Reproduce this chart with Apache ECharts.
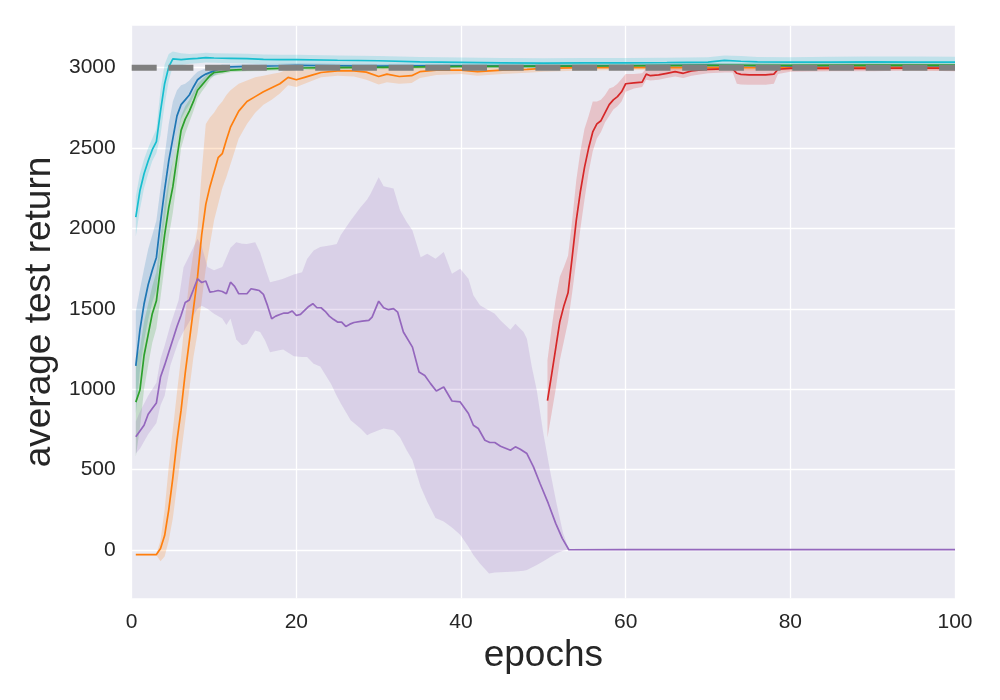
<!DOCTYPE html>
<html lang="en">
<head>
    <meta charset="UTF-8">
    <title>average test return</title>
    <script src="https://cdn.jsdelivr.net/npm/echarts@6/dist/echarts.min.js"></script>
    <style>body{margin:0;background:#fff;}</style>
</head>
<body>
<div id="main" style="width:1000px;height:700px;"></div>
<script>

    // y tick labels / x ticks
    var yTicks = [0, 500, 1000, 1500, 2000, 2500, 3000];
    var refLevel = 3000;

    // cyan
    var cyanX  = [0.5, 1, 1.5, 2, 2.5, 3, 3.5, 4, 4.5, 5, 6, 7, 8, 9, 10, 12, 14, 16, 18, 20, 25, 30, 35, 40, 45, 50, 55, 60, 65, 70, 72, 74, 76, 80, 85, 90, 95, 100];
    var cyanY  = [2070, 2235, 2340, 2420, 2490, 2540, 2730, 2900, 3005, 3055, 3050, 3055, 3058, 3062, 3060, 3058, 3056, 3052, 3050, 3050, 3046, 3043, 3036, 3033, 3030, 3028, 3030, 3030, 3032, 3035, 3045, 3040, 3036, 3035, 3034, 3036, 3035, 3035];
    var cyanLo = [1950, 2120, 2250, 2340, 2420, 2470, 2580, 2770, 2920, 3010, 3015, 3025, 3028, 3032, 3030, 3028, 3026, 3022, 3020, 3020, 3016, 3013, 3006, 3003, 3000, 2998, 3000, 3000, 3002, 3005, 3010, 3008, 3005, 3003, 3000, 2995, 3000, 3000];
    var cyanHi = [2200, 2340, 2430, 2500, 2560, 2620, 2860, 3020, 3085, 3100, 3090, 3085, 3088, 3092, 3090, 3088, 3086, 3082, 3080, 3080, 3076, 3073, 3066, 3063, 3060, 3058, 3060, 3060, 3062, 3065, 3075, 3072, 3066, 3065, 3068, 3070, 3070, 3068];

    // blue
    var blueX  = [0.5, 1, 1.5, 2, 2.5, 3, 3.5, 4, 4.5, 5, 5.5, 6, 6.5, 7, 7.5, 8, 8.5, 9, 10, 11, 12, 14, 16, 18, 20, 25, 30, 35, 40, 50, 60, 70, 80, 90, 100];
    var blueY  = [1145, 1370, 1530, 1650, 1740, 1820, 2040, 2240, 2420, 2560, 2700, 2770, 2800, 2830, 2880, 2925, 2945, 2960, 2980, 3000, 3005, 3008, 3010, 3012, 3015, 3012, 3010, 3012, 3012, 3010, 3012, 3015, 3010, 3012, 3010];
    var blueLo = [850, 1120, 1300, 1430, 1540, 1620, 1850, 2050, 2250, 2420, 2580, 2680, 2730, 2770, 2820, 2870, 2900, 2925, 2950, 2980, 2990, 2995, 2997, 2999, 3002, 2999, 2997, 2999, 2999, 2997, 2999, 3002, 2997, 2999, 2997];
    var blueHi = [1480, 1620, 1750, 1870, 1960, 2050, 2250, 2450, 2650, 2790, 2860, 2890, 2900, 2920, 2950, 2975, 2985, 2995, 3005, 3020, 3020, 3021, 3023, 3025, 3028, 3025, 3023, 3025, 3025, 3023, 3025, 3028, 3023, 3025, 3023];

    // orange
    var orangeX  = [0.5, 1, 1.5, 2, 2.5, 3, 3.5, 4, 4.5, 5, 5.5, 6, 6.5, 7, 7.5, 8, 8.5, 9, 9.5, 10, 10.5, 11, 11.5, 12, 13, 14, 15, 16, 17, 18, 19, 20, 21, 22, 23, 25, 27, 28.5, 30, 31, 32.5, 34, 35, 37, 40, 42, 45, 48, 50, 55, 60, 70, 80, 90, 100];
    var orangeY  = [-28, -28, -28, -28, -28, -28, 10, 90, 250, 450, 680, 870, 1100, 1300, 1500, 1700, 1960, 2150, 2260, 2350, 2440, 2465, 2550, 2630, 2730, 2790, 2820, 2850, 2875, 2900, 2940, 2925, 2940, 2955, 2970, 2980, 2980, 2972, 2945, 2960, 2945, 2950, 2975, 2985, 2985, 2975, 2985, 2990, 2995, 3000, 3002, 3000, 3000, 3002, 3000];
    var orangeLo = [-32, -32, -32, -32, -32, -32, -70, -40, 60, 200, 400, 600, 800, 1000, 1200, 1350, 1550, 1750, 1900, 2050, 2150, 2250, 2320, 2400, 2560, 2650, 2720, 2770, 2800, 2840, 2890, 2880, 2900, 2920, 2940, 2950, 2945, 2925, 2895, 2910, 2900, 2905, 2935, 2955, 2960, 2950, 2960, 2968, 2975, 2982, 2985, 2983, 2983, 2985, 2983];
    var orangeHi = [-24, -24, -24, -24, -24, -24, 60, 250, 520, 750, 980, 1200, 1450, 1680, 1850, 2000, 2350, 2650, 2690, 2720, 2760, 2790, 2830, 2860, 2900, 2920, 2940, 2950, 2960, 2970, 2990, 2980, 2985, 2995, 3005, 3010, 3012, 3010, 2990, 3005, 2990, 2995, 3012, 3015, 3012, 3002, 3010, 3012, 3015, 3018, 3020, 3017, 3017, 3019, 3017];

    // green
    var greenX  = [0.5, 1, 1.5, 2, 2.5, 3, 3.5, 4, 4.5, 5, 5.5, 6, 6.5, 7, 7.5, 8, 8.5, 9, 9.5, 10, 11, 12, 14, 16, 18, 20, 25, 30, 35, 40, 50, 60, 70, 80, 90, 100];
    var greenY  = [920, 995, 1210, 1340, 1470, 1550, 1760, 1960, 2130, 2260, 2440, 2610, 2680, 2730, 2790, 2860, 2890, 2920, 2950, 2970, 2975, 2985, 2990, 2992, 2995, 2998, 3000, 3002, 3005, 3008, 3010, 3012, 3015, 3015, 3016, 3016];
    var greenLo = [580, 760, 1000, 1150, 1290, 1380, 1570, 1770, 1950, 2100, 2300, 2500, 2590, 2660, 2730, 2810, 2850, 2885, 2925, 2950, 2960, 2972, 2978, 2980, 2983, 2986, 2988, 2990, 2993, 2996, 2998, 3000, 3003, 3003, 3004, 3004];
    var greenHi = [1200, 1250, 1420, 1530, 1640, 1730, 1950, 2150, 2310, 2420, 2570, 2700, 2760, 2800, 2850, 2900, 2925, 2950, 2975, 2990, 2990, 2998, 3002, 3004, 3007, 3010, 3012, 3014, 3017, 3020, 3022, 3024, 3027, 3027, 3028, 3028];

    // red
    var redX  = [50.5, 51, 51.5, 52, 52.5, 53, 53.5, 54, 54.5, 55, 55.5, 56, 56.5, 57, 57.5, 58, 58.5, 59, 59.5, 60, 61, 62, 62.5, 63, 64, 65, 66, 67, 68, 70, 72, 73, 73.5, 74, 75, 76, 77, 78, 78.5, 80, 85, 90, 95, 100];
    var redY  = [930, 1090, 1255, 1420, 1520, 1600, 1820, 2050, 2230, 2380, 2500, 2600, 2650, 2670, 2720, 2770, 2800, 2820, 2850, 2900, 2905, 2910, 2960, 2950, 2955, 2965, 2975, 2965, 2980, 2990, 2992, 2992, 2965, 2958, 2955, 2955, 2955, 2960, 2990, 2995, 2995, 2995, 2998, 2995];
    var redLo = [700, 850, 1000, 1180, 1300, 1420, 1600, 1800, 2000, 2180, 2350, 2480, 2560, 2600, 2660, 2700, 2740, 2760, 2790, 2850, 2870, 2880, 2925, 2920, 2925, 2935, 2945, 2935, 2950, 2965, 2970, 2970, 2900, 2895, 2893, 2893, 2893, 2900, 2960, 2975, 2978, 2978, 2982, 2978];
    var redHi = [1180, 1380, 1560, 1700, 1760, 1830, 2050, 2300, 2480, 2620, 2700, 2790, 2790, 2800, 2830, 2870, 2880, 2900, 2930, 2960, 2960, 2965, 2995, 2985, 2988, 2995, 3003, 2995, 3008, 3012, 3014, 3014, 3010, 3008, 3005, 3005, 3005, 3008, 3015, 3015, 3012, 3012, 3014, 3012];

    // purple
    var purpleX = [0.5, 1, 1.5, 2, 2.5, 3, 3.5, 4, 4.5, 5, 5.5, 6, 6.5, 7, 7.5, 8, 8.5, 9, 9.5, 10,
        10.5, 11, 11.5, 12, 12.5, 13, 14, 14.5, 15, 15.5, 16, 16.5, 17, 17.5, 18, 18.5, 19, 19.5, 20, 20.5,
        21, 21.5, 22, 22.5, 23, 23.5, 24, 24.5, 25, 25.5, 26, 26.5, 27, 28, 28.8, 29.2, 30, 30.6, 31.2, 31.8,
        32.3, 33, 34.1, 34.9, 35.6, 36.3, 37, 37.9, 38.9, 39.9, 40.9, 41.5, 42.1, 42.9, 43.5, 44.1, 44.8, 46, 46.6, 47.2,
        48, 48.8, 49.6, 50.6, 51.5, 52.3, 53.1, 60, 70, 80, 90, 100];
    var purpleY = [704, 740, 776, 845, 880, 915, 1076, 1150, 1230, 1310, 1390, 1460, 1540, 1555, 1620, 1687, 1664, 1673, 1604, 1608,
        1614, 1608, 1594, 1666, 1640, 1594, 1594, 1625, 1620, 1614, 1590, 1520, 1439, 1455, 1465, 1474, 1474, 1487, 1459, 1466,
        1490, 1515, 1532, 1507, 1507, 1485, 1455, 1435, 1418, 1418, 1391, 1405, 1415, 1424, 1428, 1449, 1548, 1507, 1495, 1501,
        1480, 1356, 1262, 1107, 1086, 1035, 989, 1014, 927, 921, 849, 776, 756, 683, 669, 669, 646, 621, 642, 627,
        600, 517, 414, 290, 166, 73, 2, 3, 3, 3, 3, 3];
    var purpleBandX = [0.5, 1, 2, 3, 3.5, 4, 4.7, 5.7, 6.3, 7, 8, 8.5, 9.2, 10, 11, 11.5, 12, 12.7, 13.4, 14,
        15, 15.6, 16.2, 16.8, 17.9, 18.4, 19.7, 20.7, 21.3, 22.1, 22.9, 24.2, 24.9, 25.4, 26.6, 27.8, 28.6, 29, 30, 30.6,
        31.8, 32.6, 33.4, 34.1, 35.1, 35.9, 36.9, 37.9, 38.9, 39.9, 40.9, 41.5, 42.3, 43.4, 44.1, 44.8, 46, 46.6, 47.6, 48,
        48.6, 49.2, 50, 50.8, 51.6, 52.4, 53.1];
    var purpleHi = [800, 860, 960, 1040, 1190, 1270, 1400, 1553, 1759, 1830, 1936, 1890, 1760, 1740, 1760, 1820, 1880, 1915, 1905, 1904,
        1915, 1850, 1755, 1666, 1680, 1687, 1714, 1728, 1810, 1863, 1884, 1895, 1904, 1960, 2049, 2132, 2180, 2215, 2318, 2262,
        2248, 2111, 2040, 1987, 1821, 1842, 1811, 1853, 1718, 1749, 1687, 1584, 1522, 1490, 1470, 1428, 1370, 1408, 1356, 1314,
        1139, 994, 725, 497, 290, 104, 4];
    var purpleLo = [600, 630, 720, 790, 900, 960, 1150, 1300, 1360, 1420, 1500, 1520, 1500, 1470, 1440, 1400, 1440, 1310, 1273, 1283,
        1366, 1356, 1304, 1230, 1242, 1248, 1205, 1200, 1200, 1159, 1142, 1035, 960, 911, 807, 756, 714, 725, 745, 756,
        745, 700, 621, 560, 393, 300, 200, 178, 140, 95, 20, -30, -83, -145, -140, -138, -135, -133, -128, -124,
        -108, -93, -70, -45, -20, -5, 4];

    var FONT = '"Liberation Sans", Arial, sans-serif';
    var TXT = '#262626';

    function pairs(xs, ys) {
        return xs.map(function (x, i) { return [x, ys[i]]; });
    }

    function lineSeries(color, xs, ys, z) {
        return {
            type: 'line', data: pairs(xs, ys), showSymbol: false, z: z,
            lineStyle: {color: color, width: 1.7}, silent: true
        };
    }

    // confidence band drawn as one polygon through the axes' coord()
    function bandSeries(color, xs, lo, hi) {
        return {
            type: 'custom', silent: true, z: 1,
            data: xs.map(function (x, i) { return [x, lo[i], hi[i]]; }),
            encode: {x: 0, y: [1, 2]},
            renderItem: function (params, api) {
                if (params.dataIndex !== 0) return;
                var pts = [];
                for (var i = 0; i < xs.length; i++) pts.push(api.coord([xs[i], hi[i]]));
                for (var j = xs.length - 1; j >= 0; j--) pts.push(api.coord([xs[j], lo[j]]));
                return {type: 'polygon', shape: {points: pts}, style: {fill: color, opacity: 0.2}};
            }
        };
    }

    var myChart = echarts.init(document.getElementById('main'));

    var option = {
        animation: false,
        grid: {
            left: 131.7, right: 45, top: 25.7, bottom: 101.7,
            show: true, backgroundColor: '#eaeaf2', borderWidth: 0
        },
        xAxis: {
            type: 'value', min: 0, max: 100, interval: 20,
            name: 'epochs', nameLocation: 'middle', nameGap: 36,
            nameTextStyle: {fontSize: 37, color: TXT, fontFamily: FONT},
            axisLine: {show: false}, axisTick: {show: false},
            axisLabel: {fontSize: 21, color: TXT, fontFamily: FONT, margin: 13},
            splitLine: {lineStyle: {color: '#ffffff', width: 1.3}}
        },
        yAxis: {
            type: 'value', min: -300, max: 3261, splitNumber: 7,
            name: 'average test return', nameLocation: 'middle', nameGap: 56,
            nameTextStyle: {fontSize: 37, color: TXT, fontFamily: FONT},
            axisLine: {show: false},
            axisTick: {show: false, customValues: yTicks},
            axisLabel: {
                fontSize: 21, color: TXT, fontFamily: FONT, margin: 16, customValues: yTicks,
                formatter: function (v) { return String(v); }
            },
            splitLine: {lineStyle: {color: '#ffffff', width: 1.3}}
        },
        series: [
            bandSeries('#1f77b4', blueX, blueLo, blueHi),
            bandSeries('#ff7f0e', orangeX, orangeLo, orangeHi),
            bandSeries('#2ca02c', greenX, greenLo, greenHi),
            bandSeries('#d62728', redX, redLo, redHi),
            bandSeries('#9467bd', purpleBandX, purpleLo, purpleHi),
            bandSeries('#17becf', cyanX, cyanLo, cyanHi),
            lineSeries('#1f77b4', blueX, blueY, 2),
            lineSeries('#ff7f0e', orangeX, orangeY, 2),
            lineSeries('#2ca02c', greenX, greenY, 2),
            lineSeries('#d62728', redX, redY, 2),
            lineSeries('#9467bd', purpleX, purpleY, 2),
            lineSeries('#17becf', cyanX, cyanY, 2),
            {
                type: 'line', showSymbol: false, z: 5, silent: true,
                data: [[0, refLevel], [100, refLevel]],
                lineStyle: {color: '#808080', width: 6, type: [25, 11.7], cap: 'butt'}
            }
        ]
    };

    myChart.setOption(option);
</script>
</body>
</html>
